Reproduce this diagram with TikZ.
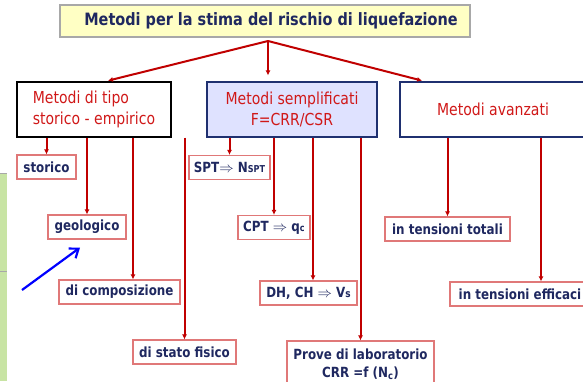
\documentclass[tikz,border=0pt]{standalone}
\usepackage{fontspec}
\setmainfont[FakeStretch=0.85]{DejaVu Sans}
\usetikzlibrary{arrows.meta, positioning}

\definecolor{navytext}{HTML}{1F2860}
\definecolor{redtext}{HTML}{D01818}
\definecolor{redline}{HTML}{C00000}
\definecolor{pinkedge}{HTML}{E07878}
\definecolor{titlefill}{HTML}{FFFFC4}
\definecolor{titleedge}{HTML}{A8A8A8}
\definecolor{bluefill}{HTML}{DFE2FF}
\definecolor{blueedge}{HTML}{1F3070}
\definecolor{stripgreen}{HTML}{C8E4A4}

\begin{document}
\begin{tikzpicture}[x=1pt, y=-1pt,
                head_block/.style={rectangle, draw=titleedge, fill=titlefill, line width=1.2pt, minimum width=410, minimum height=32, text=navytext, font=\bfseries\fontsize{17}{20}\selectfont},
                meth_block/.style={rectangle, draw=blueedge, line width=1.2pt, minimum height=55, text=redtext, align=center, font=\fontsize{16.5}{21}\selectfont},
                leaf_block/.style={rectangle, draw=pinkedge, line width=1.2pt, fill=white, minimum height=24, text=navytext, align=center, inner sep=2pt, font=\bfseries\fontsize{14}{18}\selectfont},
                line/.style={draw=redline, line width=2pt, -{Latex[length=5pt, width=5pt]}}
            ]
                \useasboundingbox (0,0) rectangle (583,381);
                % green strip on the left edge
                \fill[stripgreen] (0,173) rectangle (7,381);
                \draw[titleedge, line width=1pt] (0,173) -- (7,173) (0,271) -- (7,271);

                % Place nodes
                \node [head_block] (P_title) at (265,21) {\hspace*{12pt}Metodi per la stima del rischio di liquefazione};

                \node [meth_block, draw=black, minimum width=154, align=left] (P_tipo) at (94,109.5) {Metodi di tipo\\storico - empirico};
                \node [meth_block, fill=bluefill, minimum width=170] (P_sempl) at (292,109.5) {Metodi semplificati\\F=CRR/CSR};
                \node [meth_block, minimum width=186] (P_avanz) at (493,109.5) {Metodi avanzati};

                \node [leaf_block, minimum width=59] (P_storico) at (46.5,167) {storico};
                \node [leaf_block, minimum width=78] (P_geo) at (87,227) {geologico};
                \node [leaf_block, minimum width=121] (P_compos) at (119.5,292) {di composizione};
                \node [leaf_block, minimum width=103] (P_stato) at (184.5,352) {di stato fisico};

                \node [leaf_block, minimum width=81] (P_spt) at (229.5,167.5) {SPT$\Rightarrow$ N{\fontsize{9.5}{9}\selectfont SPT}};
                \node [leaf_block, minimum width=72] (P_cpt) at (274,227.5) {CPT $\Rightarrow$ q{\fontsize{9.5}{9}\selectfont c}};
                \node [leaf_block, minimum width=97] (P_dh) at (308.5,293) {DH, CH $\Rightarrow$ V{\fontsize{10.5}{9}\selectfont s}};
                \node [leaf_block, minimum width=147, minimum height=46] (P_prove) at (360.5,364) {Prove di laboratorio\\CRR =f (N\textsubscript{c})};

                \node [leaf_block, minimum width=125] (P_totali) at (447.5,229) {in tensioni totali};
                \node [leaf_block, minimum width=140] (P_effic) at (520,294) {in tensioni efficaci};

                % Draw edges
                \coordinate (P_split) at (268,41);
                \path [line, shorten >=3pt] (P_split) -- ([xshift=11pt]P_tipo.north);
                \path [line, shorten >=6pt] (P_split) -- (P_split |- P_sempl.north);
                \path [line, shorten >=3pt] (P_split) -- ([xshift=-68pt]P_avanz.north);

                \path [line] (P_storico.north |- P_tipo.south) -- (P_storico.north);
                \path [line] (P_geo.north |- P_tipo.south) -- (P_geo.north);
                \coordinate (c_compos) at ([xshift=13.5pt]P_compos.north);
                \path [line] (c_compos |- P_tipo.south) -- (c_compos);
                \path [line] (P_stato.north |- P_tipo.south) -- (P_stato.north);

                \path [line] (P_spt.north |- P_sempl.south) -- (P_spt.north);
                \path [line] (P_cpt.north |- P_sempl.south) -- (P_cpt.north);
                \coordinate (c_dh) at ([xshift=4.5pt]P_dh.north);
                \path [line] (c_dh |- P_sempl.south) -- (c_dh);
                \path [line] (P_prove.north |- P_sempl.south) -- (P_prove.north);

                \path [line] (P_totali.north |- P_avanz.south) -- (P_totali.north);
                \coordinate (c_effic) at ([xshift=21pt]P_effic.north);
                \path [line] (c_effic |- P_avanz.south) -- (c_effic);

                % pointer
                \coordinate (P_pointer) at (22,290);
                \draw [blue, line width=2.2pt, -{Straight Barb[length=8pt, width=12pt]}] (P_pointer) -- ([xshift=-7pt, yshift=-8pt]P_geo.south);
            \end{tikzpicture}
\end{document}
